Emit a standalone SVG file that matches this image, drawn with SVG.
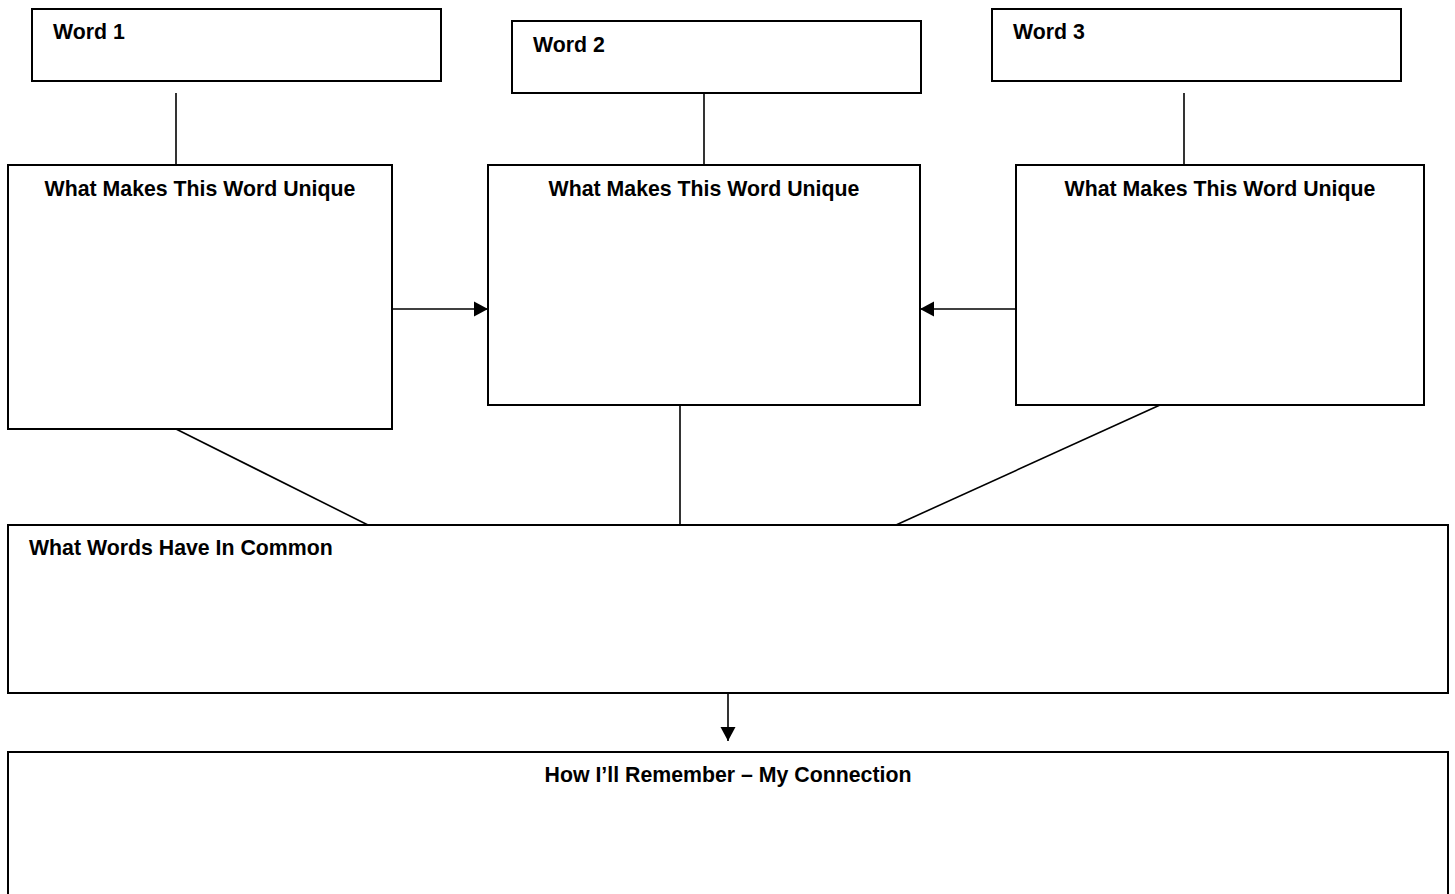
<svg xmlns="http://www.w3.org/2000/svg" width="1455" height="894" viewBox="0 0 1455 894">
  <defs>
    <style>
      .box { fill: #ffffff; stroke: #000000; stroke-width: 2; }
      .lbl { font-family: "Liberation Sans", Arial, sans-serif; font-weight: bold; font-size: 21.3px; fill: #000000; }
      .mid { text-anchor: middle; }
      .conn { stroke: #000000; stroke-width: 1.6; fill: none; }
    </style>
    <marker id="arrow" markerUnits="userSpaceOnUse" markerWidth="17" markerHeight="17" viewBox="0 0 17 17" refX="15" refY="8.5" orient="auto">
      <path d="M1,1 L15,8.5 L1,16 Z" fill="#000000"/>
    </marker>
  </defs>
  <rect width="1455" height="894" fill="#ffffff"/>

  <g id="connectors">
    <line class="conn" x1="176" y1="93" x2="176" y2="165"/>
    <line class="conn" x1="704" y1="93" x2="704" y2="165"/>
    <line class="conn" x1="1184" y1="93" x2="1184" y2="165"/>
    <line class="conn" x1="392" y1="309" x2="488" y2="309" marker-end="url(#arrow)"/>
    <line class="conn" x1="1016" y1="309" x2="920" y2="309" marker-end="url(#arrow)"/>
    <line class="conn" x1="176" y1="429" x2="368" y2="525"/>
    <line class="conn" x1="680" y1="405" x2="680" y2="525"/>
    <line class="conn" x1="1160" y1="405" x2="896" y2="525"/>
    <line class="conn" x1="728" y1="693" x2="728" y2="741" marker-end="url(#arrow)"/>
  </g>

  <g id="word1">
    <rect class="box" x="32" y="9" width="409" height="72"/>
    <text class="lbl" x="53" y="39">Word 1</text>
  </g>
  <g id="word2">
    <rect class="box" x="512" y="21" width="409" height="72"/>
    <text class="lbl" x="533" y="52">Word 2</text>
  </g>
  <g id="word3">
    <rect class="box" x="992" y="9" width="409" height="72"/>
    <text class="lbl" x="1013" y="39">Word 3</text>
  </g>

  <g id="unique1">
    <rect class="box" x="8" y="165" width="384" height="264"/>
    <text class="lbl mid" x="200" y="196">What Makes This Word Unique</text>
  </g>
  <g id="unique2">
    <rect class="box" x="488" y="165" width="432" height="240"/>
    <text class="lbl mid" x="704" y="196">What Makes This Word Unique</text>
  </g>
  <g id="unique3">
    <rect class="box" x="1016" y="165" width="408" height="240"/>
    <text class="lbl mid" x="1220" y="196">What Makes This Word Unique</text>
  </g>

  <g id="common">
    <rect class="box" x="8" y="525" width="1440" height="168"/>
    <text class="lbl" x="29" y="555">What Words Have In Common</text>
  </g>

  <g id="remember">
    <rect class="box" x="8" y="752" width="1440" height="160"/>
    <text class="lbl mid" x="728" y="782">How I’ll Remember – My Connection</text>
  </g>
</svg>
